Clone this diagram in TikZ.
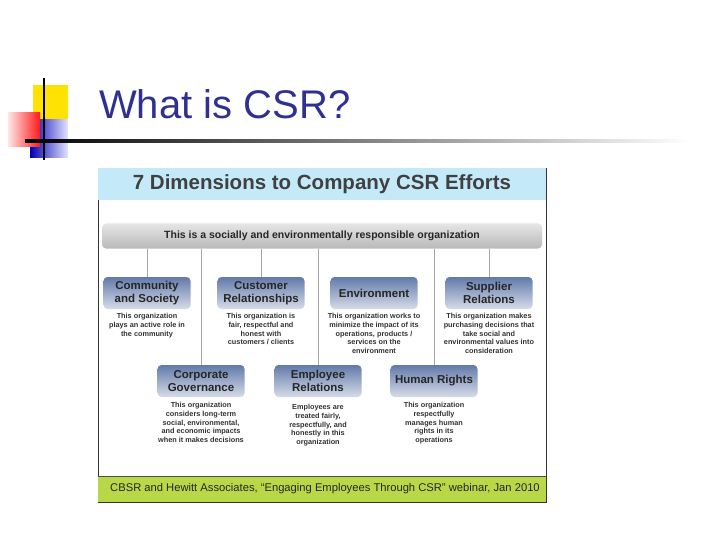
\documentclass[tikz,border=0pt]{standalone}
\usepackage{fontspec}
\setmainfont{Liberation Sans}
\begin{document}
\begin{tikzpicture}[x=1pt,y=-1pt,
  dim/.style={rounded corners=4pt,top color=boxtop,bottom color=boxbot,draw=none,minimum width=87pt,minimum height=32pt,align=center,font=\fontsize{11.5}{12.5}\selectfont\bfseries,text=black!85},
  desc/.style={align=center,font=\fontsize{7.3}{8.6}\selectfont\bfseries,text=black!80,anchor=north},
  conn/.style={draw=gray!70,line width=0.6pt}]
\definecolor{boxtop}{RGB}{98,122,170}
\definecolor{boxbot}{RGB}{214,220,232}
\definecolor{titleblue}{RGB}{46,49,146}
\definecolor{bandblue}{RGB}{196,234,250}
\definecolor{green1}{RGB}{184,216,72}
\useasboundingbox (0,0) rectangle (720,540);
% decoration
\fill[yellow!85!orange] (33,85) rectangle (68,120);
\shade[left color=blue!70!black,right color=blue!10] (30,120) rectangle (68,158);
\shade[left color=red!10,right color=red!90] (8,113) rectangle (40,147);
\draw[line width=1.5pt] (44,78) -- (44,160);
\shade[left color=black,right color=white] (25,140) rectangle (690,142.5);
\node[anchor=west,text=titleblue,font=\fontsize{40}{40}\selectfont,inner sep=0] (title) at (99,104) {What is CSR?};
% frame
\draw[black!80,line width=0.8pt,fill=white] (98,168) rectangle (546,502);
\fill[bandblue] (98.4,168.4) rectangle (545.6,200);
\node[font=\fontsize{20.5}{20.5}\selectfont\bfseries,text=black!75] (head) at (322,184.5) {7 Dimensions to Company CSR Efforts};
\fill[green1] (98.4,476) rectangle (545.6,501.6);
\draw[black!70] (98,476) -- (546,476);
\node[font=\fontsize{11.2}{11.2}\selectfont,text=black!85] (foot) at (325,489) {CBSR and Hewitt Associates, ``Engaging Employees Through CSR'' webinar, Jan 2010};
% org bar
\node[rounded corners=4pt,top color=gray!20,bottom color=gray!55,minimum width=440pt,minimum height=25pt,font=\fontsize{10.5}{10.5}\selectfont\bfseries,text=black!85] (org) at (322,236) {This is a socially and environmentally responsible organization};
% boxes
\node[dim] (cs) at (147,293) {Community\\and Society};
\node[dim] (cr) at (261,293) {Customer\\Relationships};
\node[dim] (en) at (374,293) {Environment};
\node[dim] (sr) at (489,293) {Supplier\\Relations};
\node[dim] (cg) at (201,381) {Corporate\\Governance};
\node[dim] (er) at (318,381) {Employee\\Relations};
\node[dim] (hr) at (434,381) {Human Rights};
% connectors
\foreach \b in {cs,cr,sr,cg,er,hr} \draw[conn] (org.south -| \b.north) -- (\b.north);
% descriptions
\node[desc] (d1) at (147,310) {This organization\\plays an active role in\\the community};
\node[desc] (d2) at (261,310) {This organization is\\fair, respectful and\\honest with\\customers / clients};
\node[desc] (d3) at (374,310) {This organization works to\\minimize the impact of its\\operations, products /\\services on the\\environment};
\node[desc] (d4) at (489,310) {This organization makes\\purchasing decisions that\\take social and\\environmental values into\\consideration};
\node[desc] (d5) at (201,399) {This organization\\considers long-term\\social, environmental,\\and economic impacts\\when it makes decisions};
\node[desc] (d6) at (318,401) {Employees are\\treated fairly,\\respectfully, and\\honestly in this\\organization};
\node[desc] (d7) at (434,399) {This organization\\respectfully\\manages human\\rights in its\\operations};
\end{tikzpicture}
\end{document}
